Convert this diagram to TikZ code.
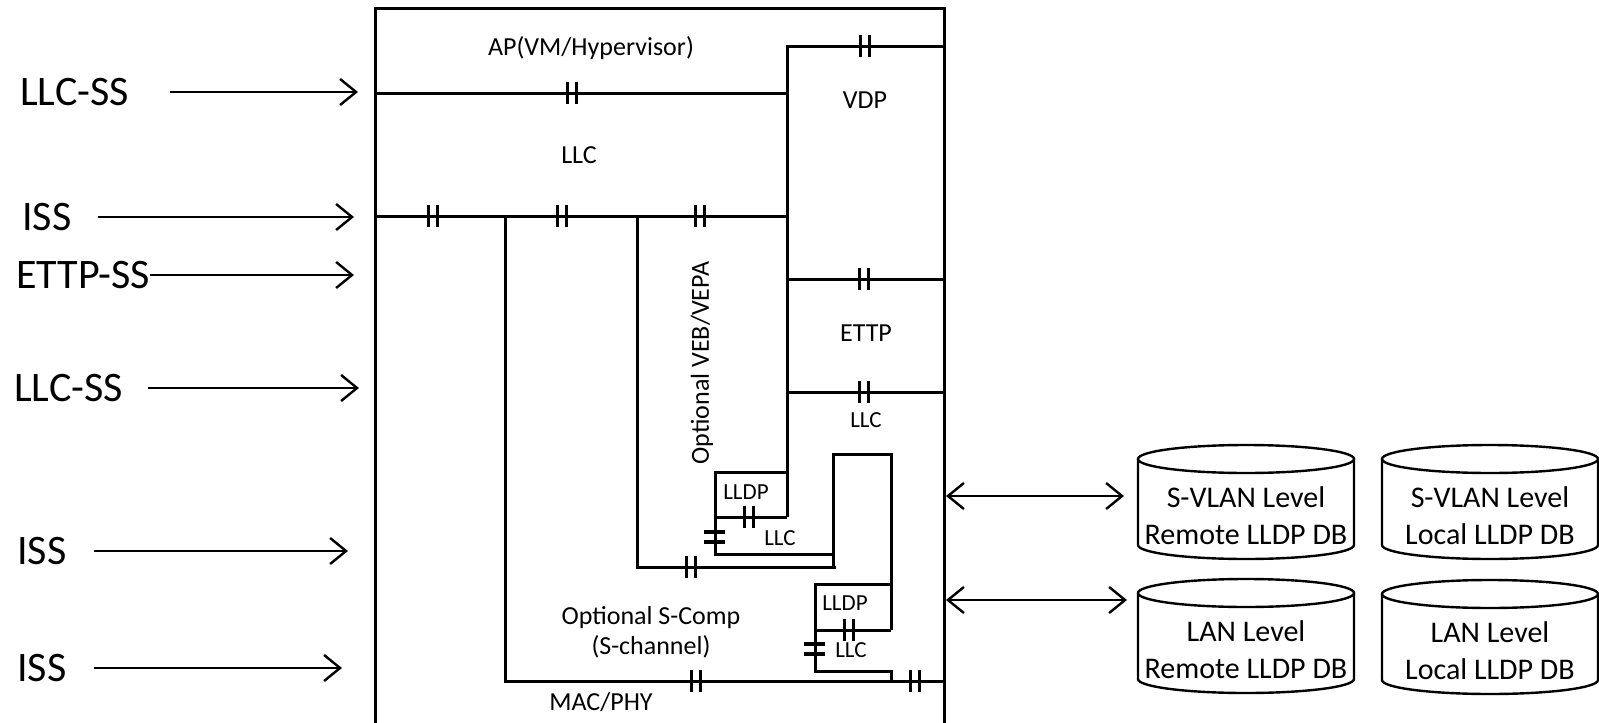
\documentclass[tikz,border=0pt]{standalone}
\usepackage{fontspec}
\setmainfont{Carlito}
\usepackage{tikz}
\usetikzlibrary{arrows.meta, positioning, shapes.geometric, calc}

\begin{document}
\begin{tikzpicture}[x=1pt, y=-1pt,
  wall/.style={line width=3pt},
  brk/.style={line width=3.2pt},
  arr/.style={line width=2.4pt, -{Straight Barb[length=16pt, width=26pt]}},
  dbl/.style={line width=2.4pt, {Straight Barb[length=16pt, width=26pt]}-{Straight Barb[length=16pt, width=26pt]}},
  side/.style={font=\fontsize{42}{48}\selectfont, inner sep=0pt, anchor=west},
  lbl/.style={font=\fontsize{26}{30}\selectfont, inner sep=0pt},
  sml/.style={font=\fontsize{23}{26}\selectfont, inner sep=0pt},
  db/.style={minimum width=216pt, minimum height=86pt, inner sep=0pt, outer sep=0pt,
             align=center, font=\fontsize{30}{37}\selectfont},
  dbline/.style={line width=2.4pt},
]
  \useasboundingbox (0,0) rectangle (1599,723);
  % --- outer frame and layer lines ---
  \draw[wall] (375,723) -- (375,8) -- (944,8) -- (944,723);
  \draw[wall] (375,93) -- (787,93);
  \draw[wall] (787,517) -- (787,46) -- (944,46);
  \draw[wall] (375,216) -- (787,216);
  \draw[wall] (505,216) -- (505,681) -- (944,681);
  \draw[wall] (637,216) -- (637,567) -- (836,567);
  \draw[wall] (787,279) -- (944,279);
  \draw[wall] (787,392) -- (944,392);
  % LLDP over LLC, VEB side
  \draw[wall] (787,472) -- (715,472) -- (715,554) -- (833,554);
  \draw[wall] (715,517) -- (787,517);
  % S-Comp side
  \draw[wall] (833,567) -- (833,454) -- (891,454) -- (891,630);
  \draw[wall] (891,584) -- (815,584) -- (815,671) -- (891,671) -- (891,681);
  \draw[wall] (815,630) -- (891,630);
  % --- service access points (double bars) ---
  \foreach \x/\y in {572/93, 865/46, 433/216, 562/216, 700/216, 864/279, 864/392,
                     749/517, 691/567, 849/630, 696/681, 915/681}{
    \draw[brk] (\x-4.7,\y-11) -- (\x-4.7,\y+11) (\x+4.7,\y-11) -- (\x+4.7,\y+11);
  }
  \foreach \x/\y in {715/537, 815/649}{
    \draw[brk] (\x-11,\y-5) -- (\x+10,\y-5) (\x-11,\y+5) -- (\x+10,\y+5);
  }
  % --- layer names ---
  \node[lbl] (ap) at (591,48) {AP(VM/Hypervisor)};
  \node[lbl] (vdp) at (865,100) {VDP};
  \node[lbl] (llcTop) at (579,155) {LLC};
  \node[lbl] (ettp) at (866,333) {ETTP};
  \node[sml] (llcEttp) at (866,420) {LLC};
  \node[lbl, rotate=90] (veb) at (702,363) {Optional VEB/VEPA};
  \node[sml] (lldpVeb) at (746,492) {LLDP};
  \node[sml] (llcVeb) at (780,538) {LLC};
  \node[sml] (lldpSc) at (845,603) {LLDP};
  \node[sml] (llcSc) at (851,650) {LLC};
  \node[lbl, align=center] (scomp) at (651,632) {Optional S-Comp\\(S-channel)};
  \node[lbl] (mac) at (601,702) {MAC/PHY};
  % --- interfaces on the left ---
  \foreach \n/\txt/\xl/\y/\g/\xe in {ls1/LLC-SS/20/92/41/358, is1/ISS/22/217/26/354,
      es1/ETTP-SS/16/275/0/354, ls2/LLC-SS/14/388/25/359,
      is2/ISS/17/551/27/348, is3/ISS/17/668/27/342}{
    \node[side] (\n) at (\xl,\y) {\txt};
    \coordinate (\n-in) at (\xe,\y);
    \draw[arr] ([xshift=\g pt]\n.east) -- (\n-in);
  }
  % --- LLDP databases (node = cylinder body, drum drawn round it) ---
  \def\rx{108}\def\ry{14}
  \node[db] (svr) at (1246,516) {S-VLAN Level\\Remote LLDP DB};
  \node[db] (svl) at (1490,516) {S-VLAN Level\\Local LLDP DB};
  \node[db] (lnr) at (1246,650) {LAN Level\\Remote LLDP DB};
  \node[db] (lnl) at (1490,651) {LAN Level\\Local LLDP DB};
  \foreach \db in {svr, svl, lnr, lnl}{
    \draw[dbline] ($(\db.north west)+(0,-\ry)$) -- ($(\db.south west)+(0,-\ry)$)
      arc[start angle=180, end angle=0, x radius=\rx, y radius=\ry]
      -- ($(\db.north east)+(0,-\ry)$);
    \draw[dbline] ($(\db.north)+(0,-\ry)$) ellipse[x radius=\rx, y radius=\ry];
  }
  \coordinate (pv) at (944,496);
  \coordinate (pl) at (944,600);
  \draw[dbl, shorten <=2pt, shorten >=14pt] (pv) -- (pv -| svr.west);
  \draw[dbl, shorten <=2pt, shorten >=11pt] (pl) -- (pl -| lnr.west);
\end{tikzpicture}
\end{document}
